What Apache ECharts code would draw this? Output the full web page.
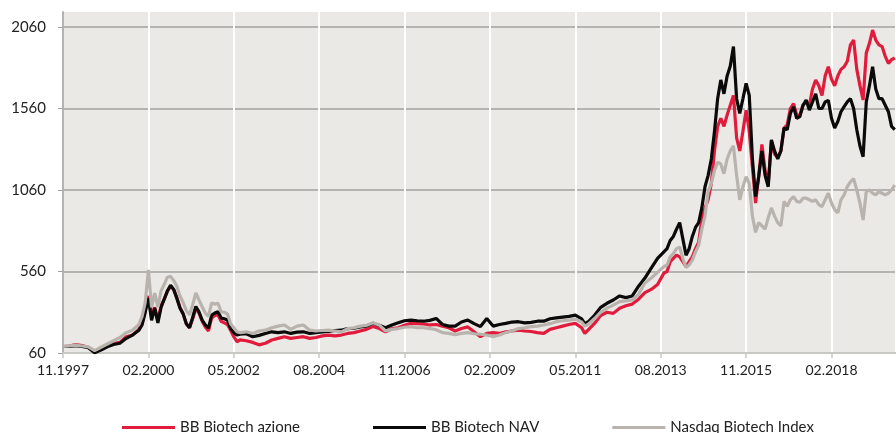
<!DOCTYPE html>
<html>
<head>
<meta charset="utf-8">
<script src="https://cdn.jsdelivr.net/npm/echarts@6/dist/echarts.min.js"></script>
<style>
html,body{margin:0;padding:0;background:#fff;}
#c{width:896px;height:433px;}
</style>
</head>
<body>
<div id="c"></div>
<script>
// months since 11.1997
var months = [0,2,4,6,8,10,12,14,16,18,20,22,24,25,26,27,28,29,30,31,32,33,34,35,36,37,38,39,40,41,42,43,44,45,46,47,48,49,50,51,52,53,54,55,56,58,60,62,64,66,68,70,72,74,76,78,80,82,84,86,88,90,92,94,96,98,100,102,104,106,108,110,112,114,116,118,120,122,124,126,128,130,132,134,136,138,140,142,144,146,148,150,152,154,156,158,160,162,164,165,166,168,170,172,174,176,178,180,182,184,186,188,190,191,192,193,194,195,196,197,198,199,200,201,202,203,204,205,206,207,208,209,210,211,212,213,214,215,216,217,218,219,220,221,222,223,224,225,226,227,228,229,230,231,232,233,234,235,236,237,238,239,240,241,242,243,244,245,246,247,248,249,250,251,252,253,254,255,256,257,258,259,260,261,262,263];
var azione = [100,103,112,105,95,72,85,105,118,125,160,170,205,240,320,410,290,340,260,350,390,440,470,450,400,340,300,240,215,270,335,305,255,220,195,275,290,295,255,245,235,200,160,129,140,135,125,110,120,140,150,160,150,155,160,150,155,165,170,165,170,180,185,195,205,222,210,190,210,215,230,242,240,238,232,235,225,215,195,210,220,190,160,180,185,180,190,195,200,195,192,185,180,205,215,225,235,242,215,180,200,240,290,310,303,335,350,360,390,430,450,480,550,560,620,640,660,650,620,590,620,650,700,740,880,950,1000,1100,1300,1450,1500,1450,1520,1580,1640,1380,1300,1420,1550,1420,1200,980,1150,1340,1180,1100,1360,1280,1260,1300,1440,1460,1560,1590,1520,1520,1580,1600,1580,1680,1735,1700,1640,1760,1816,1740,1700,1760,1800,1816,1850,1950,1980,1800,1700,1612,1900,1960,2041,1980,1950,1940,1880,1837,1860,1870];
var nav = [100,100,105,100,92,62,78,98,112,120,150,170,200,232,310,397,260,336,245,340,390,440,475,450,395,335,300,240,215,278,345,313,262,232,213,293,305,313,275,270,262,210,185,170,175,178,160,168,180,190,185,190,180,188,190,180,185,190,192,198,200,210,212,220,225,242,230,215,232,245,258,262,258,255,260,272,235,225,225,250,262,240,222,272,225,235,242,250,252,245,248,255,255,270,275,280,285,292,270,240,250,290,340,365,385,410,400,410,470,520,580,640,680,700,750,775,820,860,760,660,700,775,830,860,950,1080,1150,1250,1420,1620,1735,1650,1760,1820,1940,1620,1530,1620,1714,1640,1250,1020,1142,1300,1150,1080,1367,1300,1250,1300,1440,1430,1530,1570,1500,1510,1580,1612,1550,1600,1650,1560,1560,1600,1610,1500,1440,1480,1540,1571,1600,1620,1560,1430,1330,1264,1600,1700,1816,1680,1620,1620,1580,1540,1450,1430];
var nasdaq = [100,104,108,103,98,75,95,115,135,155,185,200,235,285,370,570,340,428,342,440,480,525,530,505,470,410,370,320,295,355,428,385,344,305,285,367,360,365,313,310,300,240,215,190,185,190,180,195,200,215,225,232,205,225,232,200,195,198,200,195,190,210,215,225,230,245,232,195,205,210,218,222,215,215,210,203,185,180,172,180,185,178,175,170,160,170,185,195,210,215,222,225,232,240,252,258,262,268,250,225,235,270,310,335,354,375,380,385,420,490,520,555,590,600,650,670,700,710,640,585,600,630,680,720,820,900,1050,1100,1180,1230,1220,1160,1250,1300,1330,1150,1000,1080,1142,1100,900,800,860,840,820,890,950,900,860,840,990,960,1000,1020,990,985,1010,1010,1000,990,1000,970,958,1000,1040,980,940,920,1000,1030,1080,1110,1130,1060,980,876,1050,1060,1040,1030,1050,1040,1030,1040,1060,1090];
var xTickLabels = ['11.1997','02.2000','05.2002','08.2004','11.2006','02.2009','05.2011','08.2013','11.2015','02.2018'];
var seriesNames = ['BB Biotech azione','BB Biotech NAV','Nasdaq Biotech Index'];
var seriesColors = ['#e01b3c','#0a0a0a','#b9b3ae'];

function pairs(vals){ return months.map(function(m,i){ return [m, vals[i]]; }); }

var chart = echarts.init(document.getElementById('c'), null, {renderer:'canvas'});
var gridGrey = '#a3a19e';
chart.setOption({
  animation:false,
  backgroundColor:'#ffffff',
  textStyle:{fontFamily:'Lato'},
  grid:{left:63,right:0,top:12,bottom:80,show:true,backgroundColor:'#ebe9e5',borderWidth:0},
  legend:{
    left:122, top:420, padding:0, itemWidth:53, itemHeight:3, itemGap:73, icon:'rect',
    textStyle:{fontFamily:'Lato',fontSize:15,color:'#222'},
    data:seriesNames
  },
  xAxis:{
    type:'value', min:0, max:263.4, interval:27,
    axisLine:{show:true,lineStyle:{color:'#c9c7c4',width:2}},
    axisTick:{show:true,length:5,lineStyle:{color:'#c9c7c4',width:1.5}},
    splitLine:{show:true,lineStyle:{color:'#ffffff',width:2}},
    axisLabel:{
      margin:10, fontSize:14, color:'#222', fontFamily:'Lato', showMaxLabel:false,
      formatter:function(v){ var i=Math.round(v/27); return xTickLabels[i]||''; }
    }
  },
  yAxis:{
    type:'value', min:60, max:2152, interval:500,
    axisLine:{show:true,lineStyle:{color:'#b5b3b0',width:2}},
    axisTick:{show:true,length:5,lineStyle:{color:'#a3a19e',width:1}},
    splitLine:{show:true,lineStyle:{color:[gridGrey,gridGrey,gridGrey,gridGrey,gridGrey,'rgba(0,0,0,0)'],width:1.5}},
    axisLabel:{margin:17, fontSize:15, color:'#222', fontFamily:'Lato', showMaxLabel:false,
      formatter:function(v){ return String(Math.round(v)); }}
  },
  series:[0,1,2].map(function(k){
    return {
      name:seriesNames[k], type:'line', showSymbol:false, symbol:'none',
      data:pairs([azione,nav,nasdaq][k]),
      lineStyle:{color:seriesColors[k],width:3.2},
      itemStyle:{color:seriesColors[k]},
      z:2+k
    };
  })
});
</script>
</body>
</html>
